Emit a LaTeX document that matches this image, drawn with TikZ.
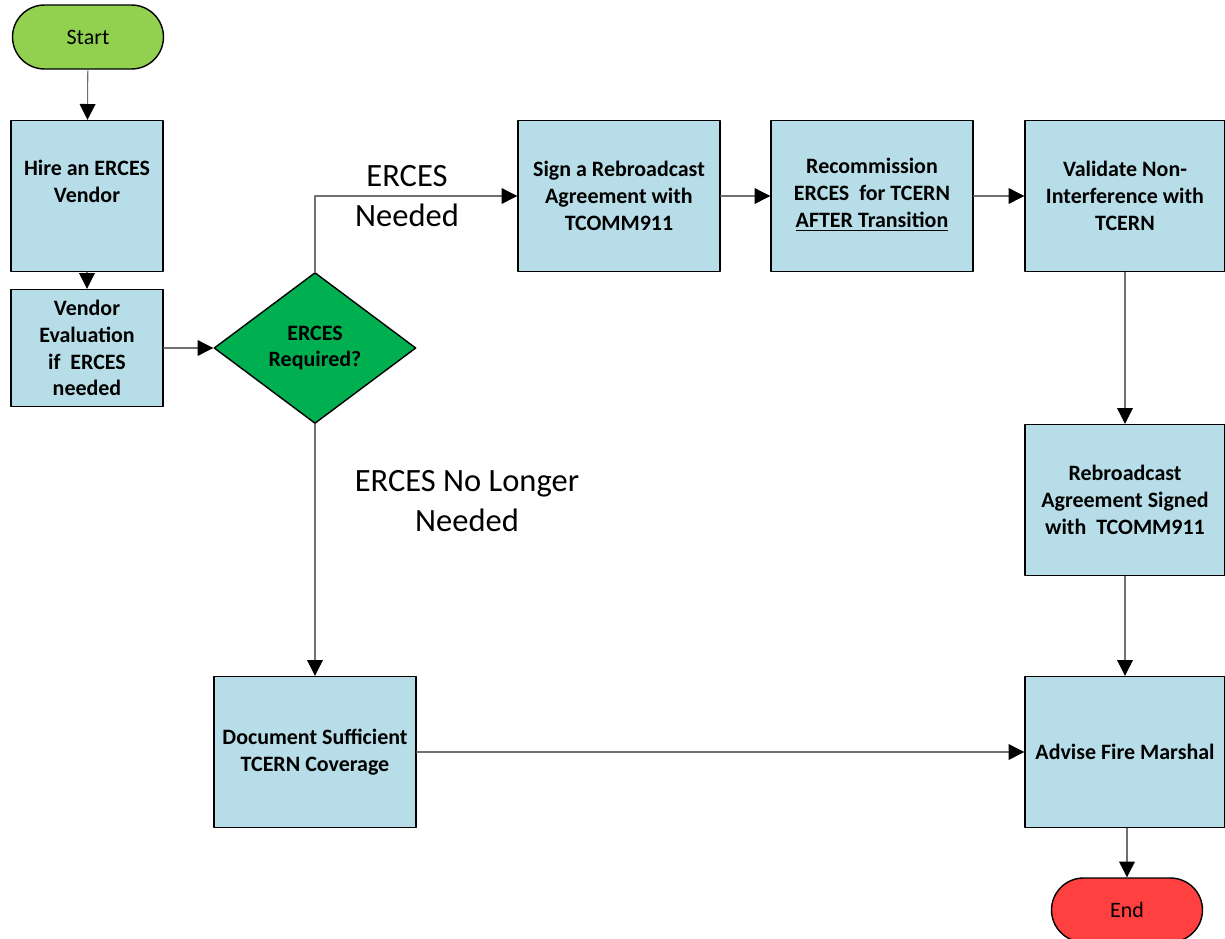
\documentclass[tikz,border=0pt]{standalone}
\usepackage{fontspec}
\setmainfont{Carlito}
\usetikzlibrary{shapes.geometric,arrows.meta}

\definecolor{boxblue}{HTML}{B7DEE8}
\definecolor{startgreen}{HTML}{92D050}
\definecolor{decgreen}{HTML}{00B050}
\definecolor{endred}{HTML}{FF4040}
\definecolor{linegray}{HTML}{707070}

\tikzset{
  stepbox/.style={draw=black, thick, fill=boxblue, align=center, inner sep=2pt,
    minimum width=4.04cm, minimum height=3.02cm,
    font=\fontsize{12.5}{15.3}\selectfont\bfseries},
  termbox/.style={draw=black, thick, rounded corners=0.64cm, minimum width=3.02cm,
    minimum height=1.28cm, font=\fontsize{12.5}{15.3}\selectfont},
  decbox/.style={draw=black, thick, fill=decgreen, diamond, inner sep=0pt,
    minimum width=4.04cm, minimum height=3.02cm, align=center,
    font=\fontsize{12.5}{15.3}\selectfont\bfseries},
  flow/.style={draw=linegray, line width=0.6pt, -{Triangle[length=9pt,width=9pt,fill=black,color=black]}},
  branchtext/.style={align=center, font=\fontsize{18.5}{22.7}\selectfont}
}

\begin{document}
\begin{tikzpicture}[line cap=round, line join=round, x=0.02cm, y=-0.02cm]
  \useasboundingbox (0,0) rectangle (1225,938);
  % left column
  \node[termbox, fill=startgreen] (start) at (88,37) {Start};
  \node[stepbox, minimum width=3.04cm] (hire) at (87,196) {Hire an ERCES\\Vendor\\[0.05cm]};
  \node[stepbox, minimum width=3.04cm, minimum height=2.34cm] (eval) at (87,348) {Vendor\\Evaluation\\if\ \ ERCES\\needed};
  \node[decbox] (req) at (315,348) {ERCES\\Required?};
  % top row
  \node[stepbox] (sign) at (619,196) {Sign a Rebroadcast\\Agreement with\\TCOMM911};
  \node[stepbox] (recomm) at (872,196) {Recommission\\ERCES\ \ for TCERN\\\underline{AFTER Transition}\rule[-0.6ex]{0pt}{0pt}};
  \node[stepbox, minimum width=4cm] (valid) at (1125,196) {Validate Non-\\Interference with\\TCERN};
  \node[stepbox, minimum width=4cm] (signed) at (1125,500) {Rebroadcast\\Agreement Signed\\with\ \ TCOMM911};
  % bottom row
  \node[stepbox] (doc) at (315,752) {Document Sufficient\\TCERN Coverage};
  \node[stepbox, minimum width=4cm] (advise) at (1125,752) {Advise Fire Marshal};
  \node[termbox, fill=endred] (end) at (1127,910) {End};
  % branch labels
  \node[branchtext] (lblyes) at (407,196) {ERCES\\Needed};
  \node[branchtext] (lblno) at (467,501) {ERCES No Longer\\Needed};

  \draw[flow] (start) -- (hire);
  \draw[flow] (hire) -- (eval);
  \draw[flow] (eval) -- (req);
  \draw[flow] (req.north) |- (sign.west);
  \draw[flow] (req.south) -- (doc.north);
  \draw[flow] (sign) -- (recomm);
  \draw[flow] (recomm) -- (valid);
  \draw[flow] (valid) -- (signed);
  \draw[flow] (signed) -- (advise);
  \draw[flow] (doc) -- (advise);
  \draw[flow] (advise.south -| end.north) -- (end);
\end{tikzpicture}
\end{document}
